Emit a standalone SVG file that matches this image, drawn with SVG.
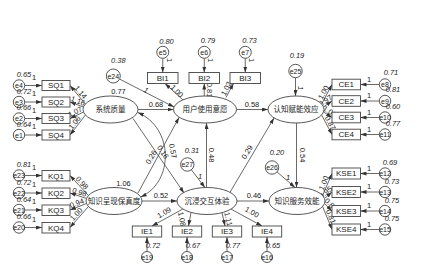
<svg xmlns="http://www.w3.org/2000/svg" width="437" height="266" viewBox="0 0 437 266">
<style>
text{font-family:"Liberation Sans",Arial,sans-serif;fill:#222}
.lb{font-size:8px;text-anchor:middle}
.cn{font-family:"Noto Sans CJK SC","Liberation Sans",sans-serif;font-size:7.5px;text-anchor:middle}
.e{font-size:7px;text-anchor:middle}
.n{font-size:7.5px;text-anchor:middle}
.v{font-size:7.5px;text-anchor:middle;font-style:italic}
rect,ellipse,circle{fill:#fff;stroke:#444;stroke-width:0.9}
.c line,.c path{stroke:#444;stroke-width:0.8;fill:none;marker-end:url(#ah)}
</style>
<defs>
<marker id="ah" viewBox="0 0 6 4" refX="6" refY="2" markerWidth="6" markerHeight="4" markerUnits="userSpaceOnUse" orient="auto"><path d="M0,0 L6,2 L0,4 z" fill="#333"/></marker>
<marker id="ahs" viewBox="0 0 6 4" refX="6" refY="2" markerWidth="6" markerHeight="4" markerUnits="userSpaceOnUse" orient="auto-start-reverse"><path d="M0,0 L6,2 L0,4 z" fill="#333"/></marker>
</defs>
<rect x="0" y="0" width="437" height="266" style="fill:#fff;stroke:none"/>

<g id="connectors" class="c">
<line x1="24.7" y1="85.5" x2="42" y2="85.5"/>
<line x1="24.7" y1="102" x2="42" y2="102"/>
<line x1="24.7" y1="118.5" x2="42" y2="118.5"/>
<line x1="24.7" y1="135" x2="42" y2="135"/>
<line x1="24.7" y1="175.5" x2="42" y2="175.5"/>
<line x1="24.7" y1="193" x2="42" y2="193"/>
<line x1="24.7" y1="210" x2="42" y2="210"/>
<line x1="24.7" y1="227.5" x2="42" y2="227.5"/>
<line x1="379.3" y1="84.5" x2="360.5" y2="84.5"/>
<line x1="379.3" y1="101" x2="360.5" y2="101"/>
<line x1="379.3" y1="117.5" x2="360.5" y2="117.5"/>
<line x1="379.3" y1="134.5" x2="360.5" y2="134.5"/>
<line x1="379.3" y1="173.5" x2="360.5" y2="173.5"/>
<line x1="379.3" y1="192" x2="360.5" y2="192"/>
<line x1="379.3" y1="211" x2="360.5" y2="211"/>
<line x1="379.3" y1="229.5" x2="360.5" y2="229.5"/>
<line x1="162.75" y1="58.3" x2="162.75" y2="72.5"/>
<line x1="204.25" y1="58.3" x2="204.25" y2="72.5"/>
<line x1="245.25" y1="58.3" x2="245.25" y2="72.5"/>
<line x1="147" y1="251.5" x2="147" y2="237"/>
<line x1="187" y1="251.5" x2="187" y2="237"/>
<line x1="227" y1="251.5" x2="227" y2="237"/>
<line x1="267" y1="251.5" x2="267" y2="237"/>
<line x1="85.4" y1="104" x2="70" y2="85.5"/>
<line x1="83.5" y1="107" x2="70" y2="102"/>
<line x1="83.5" y1="112" x2="70" y2="118.5"/>
<line x1="85.4" y1="115" x2="70" y2="135"/>
<line x1="88.4" y1="195.5" x2="70" y2="175.5"/>
<line x1="86.5" y1="198.5" x2="70" y2="193"/>
<line x1="86.5" y1="203.5" x2="70" y2="210"/>
<line x1="88.4" y1="206.5" x2="70" y2="227.5"/>
<line x1="321.6" y1="104" x2="332" y2="84.5"/>
<line x1="323.5" y1="107" x2="332" y2="101"/>
<line x1="323.5" y1="112" x2="332" y2="117.5"/>
<line x1="321.6" y1="115" x2="332" y2="134.5"/>
<line x1="322.6" y1="195.5" x2="332" y2="173.5"/>
<line x1="324.5" y1="198.5" x2="332" y2="192"/>
<line x1="324.5" y1="203.5" x2="332" y2="211"/>
<line x1="322.6" y1="206.5" x2="332" y2="229.5"/>
<line x1="183" y1="100" x2="165" y2="83.5"/>
<line x1="204.25" y1="96" x2="204.25" y2="83.5"/>
<line x1="226" y1="97.5" x2="233.5" y2="83.5"/>
<line x1="182.8" y1="209" x2="152" y2="226"/>
<line x1="191" y1="212.4" x2="188.5" y2="226"/>
<line x1="222" y1="212.7" x2="225" y2="226"/>
<line x1="231" y1="209.1" x2="262" y2="226"/>
<line x1="138" y1="109.5" x2="173.5" y2="109.5"/>
<line x1="236.5" y1="109.5" x2="268" y2="109.5"/>
<line x1="142" y1="201" x2="177" y2="201"/>
<line x1="237" y1="201" x2="269" y2="201"/>
<line x1="206.5" y1="187.5" x2="206.5" y2="123"/>
<line x1="296.5" y1="123" x2="296.5" y2="187.5"/>
<line x1="230" y1="192.3" x2="274" y2="118"/>
<line x1="138" y1="193" x2="179" y2="117.5"/>
<line x1="133" y1="118.5" x2="184" y2="193"/>
<line x1="119.6" y1="79.1" x2="174" y2="107"/>
<line x1="295.5" y1="77.7" x2="295.5" y2="96"/>
<line x1="191.4" y1="169.8" x2="205" y2="187.6"/>
<line x1="277" y1="171.9" x2="295" y2="187.5"/>
<path d="M137.8,112.5 C174,128 174,182 140.7,197" style="marker-start:url(#ahs)"/>
<text class="n" x="34" y="79.5">1</text>
<text class="n" x="34" y="96">1</text>
<text class="n" x="34" y="112.5">1</text>
<text class="n" x="34" y="129">1</text>
<text class="n" x="34" y="169.5">1</text>
<text class="n" x="34" y="187">1</text>
<text class="n" x="34" y="204">1</text>
<text class="n" x="34" y="221.5">1</text>
<text class="n" x="369" y="81.5">1</text>
<text class="n" x="369" y="98">1</text>
<text class="n" x="369" y="114.5">1</text>
<text class="n" x="369" y="131.5">1</text>
<text class="n" x="369" y="170.5">1</text>
<text class="n" x="369" y="189">1</text>
<text class="n" x="369" y="208">1</text>
<text class="n" x="369" y="226.5">1</text>
<text class="n" transform="translate(169.5,60) rotate(90)" y="2.7">1</text>
<text class="n" transform="translate(211,60) rotate(90)" y="2.7">1</text>
<text class="n" transform="translate(252,60) rotate(90)" y="2.7">1</text>
<text class="v" transform="translate(146,90) rotate(27)" y="2.7">1</text>
<text class="v" transform="translate(301,88) rotate(90)" y="2.7">1</text>
<text class="v" x="200" y="179">1</text>
<text class="v" x="288" y="180">1</text>
<text class="n" transform="translate(80.8,92.2) rotate(50)" y="2.7">1.14</text>
<text class="n" transform="translate(78.1,100.8) rotate(20)" y="2.7">1.16</text>
<text class="n" transform="translate(75,111.6) rotate(-26)" y="2.7">1.07</text>
<text class="n" transform="translate(74.5,122.6) rotate(-52)" y="2.7">1.06</text>
<text class="n" transform="translate(82.1,182.8) rotate(47)" y="2.7">0.98</text>
<text class="n" transform="translate(79.5,192) rotate(18)" y="2.7">0.98</text>
<text class="n" transform="translate(76.8,203) rotate(-21)" y="2.7">0.94</text>
<text class="n" transform="translate(76.2,214.1) rotate(-48)" y="2.7">1.00</text>
<text class="n" transform="translate(323.3,92.4) rotate(-62)" y="2.7">1.00</text>
<text class="n" transform="translate(325.4,100.7) rotate(-35)" y="2.7">0.97</text>
<text class="n" transform="translate(329.9,111.4) rotate(33)" y="2.7">1.02</text>
<text class="n" transform="translate(330.3,122.9) rotate(62)" y="2.7">0.87</text>
<text class="n" transform="translate(323.6,182.9) rotate(-67)" y="2.7">1.00</text>
<text class="n" transform="translate(325.6,192.2) rotate(-41)" y="2.7">0.95</text>
<text class="n" transform="translate(331.1,204.4) rotate(45)" y="2.7">0.88</text>
<text class="n" transform="translate(331,216.5) rotate(68)" y="2.7">0.81</text>
<text class="n" transform="translate(177,91) rotate(45)" y="2.7">1.00</text>
<text class="n" transform="translate(209.5,90) rotate(90)" y="2.7">0.81</text>
<text class="n" transform="translate(226.2,88.6) rotate(-62)" y="2.7">1.02</text>
<text class="n" transform="translate(164,212.5) rotate(-29)" y="2.7">1.09</text>
<text class="n" transform="translate(182,219) rotate(80)" y="2.7">1.08</text>
<text class="n" transform="translate(228.5,219) rotate(77)" y="2.7">1.11</text>
<text class="n" transform="translate(252,212) rotate(29)" y="2.7">1.00</text>
<text class="n" x="156" y="106.5">0.68</text>
<text class="n" x="252" y="107">0.58</text>
<text class="n" x="161" y="197.5">0.52</text>
<text class="n" x="254" y="197.5">0.46</text>
<text class="n" transform="translate(212,155) rotate(90)" y="2.7">0.48</text>
<text class="n" transform="translate(303,155) rotate(90)" y="2.7">0.54</text>
<text class="n" transform="translate(247,152) rotate(-59)" y="2.7">0.29</text>
<text class="n" transform="translate(151,157) rotate(-60)" y="2.7">0.26</text>
<text class="n" transform="translate(163,152) rotate(56)" y="2.7">0.16</text>
<text class="n" transform="translate(173,151) rotate(80)" y="2.7">0.57</text>
</g>

<g id="lv-sq"><ellipse cx="110.5" cy="109.5" rx="27.5" ry="13.5"/><text class="cn" x="110.5" y="112.2">系统质量</text><text class="n" x="118.5" y="94">0.77</text></g>
<g id="lv-bi"><ellipse cx="205" cy="109.5" rx="31.5" ry="13.5"/><text class="cn" x="205" y="112.2">用户使用意愿</text></g>
<g id="lv-ce"><ellipse cx="296" cy="109.5" rx="28" ry="13.5"/><text class="cn" x="296" y="112.2">认知赋能效应</text></g>
<g id="lv-kq"><ellipse cx="114" cy="201" rx="28" ry="13.5"/><text class="cn" x="114" y="203.7">知识呈现保真度</text><text class="n" x="123.5" y="186">1.06</text></g>
<g id="lv-ie"><ellipse cx="207" cy="201" rx="30" ry="13.5"/><text class="cn" x="207" y="203.7">沉浸交互体验</text></g>
<g id="lv-kse"><ellipse cx="297" cy="201" rx="28" ry="13.5"/><text class="cn" x="297" y="203.7">知识服务效能</text></g>

<g id="SQ1"><rect x="42" y="80.5" width="28" height="10"/><text class="lb" x="56" y="88.3">SQ1</text></g>
<g id="SQ2"><rect x="42" y="97" width="28" height="10"/><text class="lb" x="56" y="104.8">SQ2</text></g>
<g id="SQ3"><rect x="42" y="113.5" width="28" height="10"/><text class="lb" x="56" y="121.3">SQ3</text></g>
<g id="SQ4"><rect x="42" y="130" width="28" height="10"/><text class="lb" x="56" y="137.8">SQ4</text></g>
<g id="KQ1"><rect x="42" y="170.5" width="28" height="10.5"/><text class="lb" x="56" y="178.5">KQ1</text></g>
<g id="KQ2"><rect x="42" y="188" width="28" height="10.5"/><text class="lb" x="56" y="196">KQ2</text></g>
<g id="KQ3"><rect x="42" y="205" width="28" height="10.5"/><text class="lb" x="56" y="213">KQ3</text></g>
<g id="KQ4"><rect x="42" y="222.5" width="28" height="10.5"/><text class="lb" x="56" y="230.5">KQ4</text></g>
<g id="CE1"><rect x="332" y="79.2" width="28.5" height="10.6"/><text class="lb" x="346.2" y="87.3">CE1</text></g>
<g id="CE2"><rect x="332" y="95.7" width="28.5" height="10.6"/><text class="lb" x="346.2" y="103.8">CE2</text></g>
<g id="CE3"><rect x="332" y="112.2" width="28.5" height="10.6"/><text class="lb" x="346.2" y="120.3">CE3</text></g>
<g id="CE4"><rect x="332" y="129.2" width="28.5" height="10.6"/><text class="lb" x="346.2" y="137.3">CE4</text></g>
<g id="KSE1"><rect x="332" y="168" width="28.5" height="11"/><text class="lb" x="346.2" y="176.3">KSE1</text></g>
<g id="KSE2"><rect x="332" y="186.5" width="28.5" height="11"/><text class="lb" x="346.2" y="194.8">KSE2</text></g>
<g id="KSE3"><rect x="332" y="205.5" width="28.5" height="11"/><text class="lb" x="346.2" y="213.8">KSE3</text></g>
<g id="KSE4"><rect x="332" y="224" width="28.5" height="11"/><text class="lb" x="346.2" y="232.3">KSE4</text></g>
<g id="BI1"><rect x="147.5" y="72.5" width="30.5" height="11"/><text class="lb" x="162.75" y="80.8">BI1</text></g>
<g id="BI2"><rect x="189" y="72.5" width="30.5" height="11"/><text class="lb" x="204.25" y="80.8">BI2</text></g>
<g id="BI3"><rect x="230" y="72.5" width="30.5" height="11"/><text class="lb" x="245.25" y="80.8">BI3</text></g>
<g id="IE1"><rect x="132.3" y="226" width="29.4" height="11"/><text class="lb" x="147" y="234.3">IE1</text></g>
<g id="IE2"><rect x="172.3" y="226" width="29.4" height="11"/><text class="lb" x="187" y="234.3">IE2</text></g>
<g id="IE3"><rect x="212.3" y="226" width="29.4" height="11"/><text class="lb" x="227" y="234.3">IE3</text></g>
<g id="IE4"><rect x="252.3" y="226" width="29.4" height="11"/><text class="lb" x="267" y="234.3">IE4</text></g>

<g id="e4"><circle cx="19" cy="85.5" r="5.7"/><text class="e" x="19" y="88">e4</text><text class="v" x="24" y="76.5">0.65</text></g>
<g id="e3"><circle cx="19" cy="102" r="5.7"/><text class="e" x="19" y="104.5">e3</text><text class="v" x="24" y="93.5">0.72</text></g>
<g id="e2"><circle cx="19" cy="118.5" r="5.7"/><text class="e" x="19" y="121">e2</text><text class="v" x="24" y="110">0.66</text></g>
<g id="e1"><circle cx="19" cy="135" r="5.7"/><text class="e" x="19" y="137.5">e1</text><text class="v" x="24" y="126.5">0.64</text></g>
<g id="e23"><circle cx="19" cy="175.5" r="5.7"/><text class="e" x="19" y="178">e23</text><text class="v" x="24" y="166.5">0.81</text></g>
<g id="e22"><circle cx="19" cy="193" r="5.7"/><text class="e" x="19" y="195.5">e22</text><text class="v" x="24" y="184.5">0.72</text></g>
<g id="e21"><circle cx="19" cy="210" r="5.7"/><text class="e" x="19" y="212.5">e21</text><text class="v" x="24" y="201.5">0.64</text></g>
<g id="e20"><circle cx="19" cy="227.5" r="5.7"/><text class="e" x="19" y="230">e20</text><text class="v" x="24" y="219">0.66</text></g>
<g id="e8"><circle cx="385" cy="84.5" r="5.7"/><text class="e" x="385" y="87">e8</text><text class="v" x="391" y="74.5">0.71</text></g>
<g id="e9"><circle cx="385" cy="101" r="5.7"/><text class="e" x="385" y="103.5">e9</text><text class="v" x="393" y="92">0.81</text></g>
<g id="e10"><circle cx="385" cy="117.5" r="5.7"/><text class="e" x="385" y="120">e10</text><text class="v" x="393" y="108.5">0.60</text></g>
<g id="e11"><circle cx="385" cy="134.5" r="5.7"/><text class="e" x="385" y="137">e11</text><text class="v" x="393" y="125.5">0.77</text></g>
<g id="e12"><circle cx="385" cy="173.5" r="5.7"/><text class="e" x="385" y="176">e12</text><text class="v" x="390" y="164.5">0.69</text></g>
<g id="e13"><circle cx="385" cy="192" r="5.7"/><text class="e" x="385" y="194.5">e13</text><text class="v" x="392" y="183.5">0.73</text></g>
<g id="e14"><circle cx="385" cy="211" r="5.7"/><text class="e" x="385" y="213.5">e14</text><text class="v" x="392" y="202.5">0.75</text></g>
<g id="e15"><circle cx="385" cy="229.5" r="5.7"/><text class="e" x="385" y="232">e15</text><text class="v" x="392" y="221">0.75</text></g>
<g id="e5"><circle cx="162.75" cy="52.3" r="6"/><text class="e" x="162.75" y="54.8">e5</text><text class="v" x="166.5" y="43.5">0.80</text></g>
<g id="e6"><circle cx="204.25" cy="52.3" r="6"/><text class="e" x="204.25" y="54.8">e6</text><text class="v" x="208" y="43">0.79</text></g>
<g id="e7"><circle cx="245.25" cy="52.3" r="6"/><text class="e" x="245.25" y="54.8">e7</text><text class="v" x="249.5" y="43">0.73</text></g>
<g id="e19"><circle cx="147" cy="257" r="5.5"/><text class="e" x="147" y="259.5">e19</text><text class="v" x="153" y="247.5">0.72</text></g>
<g id="e18"><circle cx="187" cy="257" r="5.5"/><text class="e" x="187" y="259.5">e18</text><text class="v" x="193" y="247.5">0.67</text></g>
<g id="e17"><circle cx="227" cy="257" r="5.5"/><text class="e" x="227" y="259.5">e17</text><text class="v" x="233" y="247.5">0.77</text></g>
<g id="e16"><circle cx="267" cy="257" r="5.5"/><text class="e" x="267" y="259.5">e16</text><text class="v" x="273" y="247.5">0.65</text></g>
<g id="e24"><circle cx="113.3" cy="76" r="7"/><text class="e" x="113.3" y="78.5">e24</text><text class="v" x="118.3" y="63">0.38</text></g>
<g id="e25"><circle cx="295.5" cy="71" r="6.7"/><text class="e" x="295.5" y="73.5">e25</text><text class="v" x="297" y="58">0.19</text></g>
<g id="e27"><circle cx="187.3" cy="164.5" r="6.7"/><text class="e" x="187.3" y="167">e27</text><text class="v" x="192" y="153">0.31</text></g>
<g id="e26"><circle cx="272" cy="167.5" r="6.7"/><text class="e" x="272" y="170">e26</text><text class="v" x="277" y="155">0.20</text></g>
</svg>
